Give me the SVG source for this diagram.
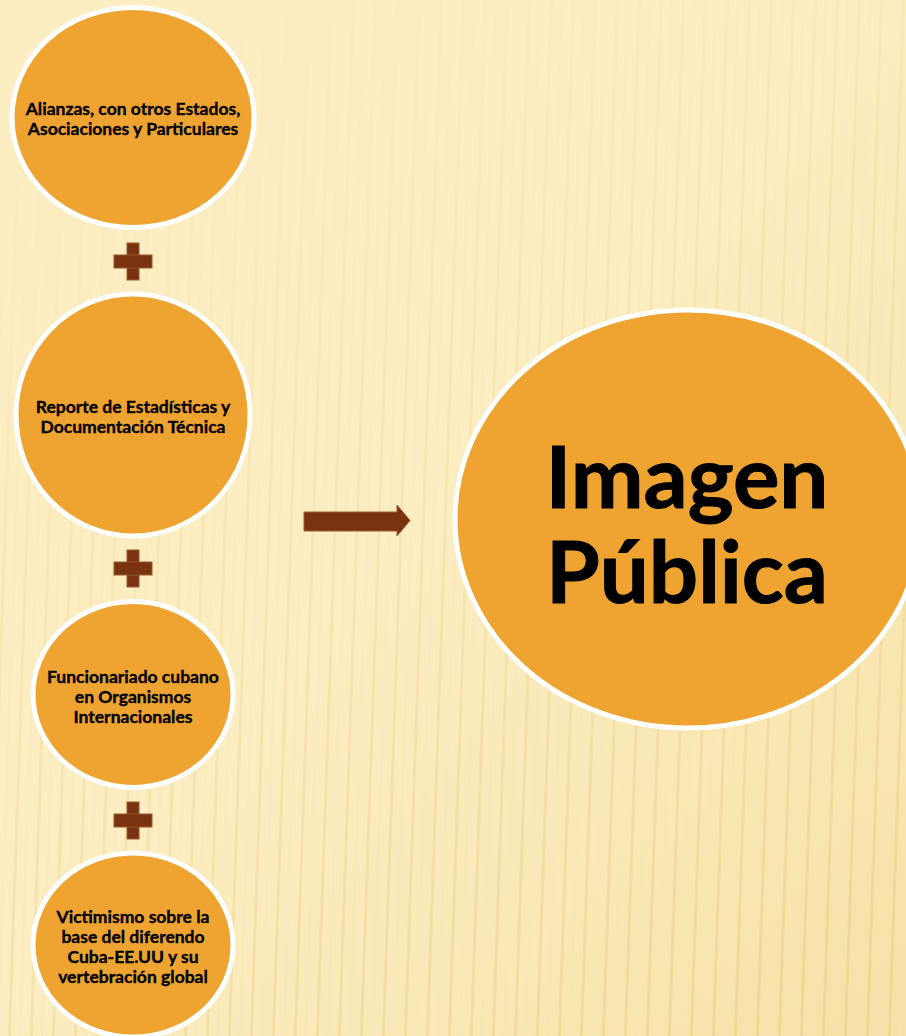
<svg xmlns="http://www.w3.org/2000/svg" width="906" height="1036" viewBox="0 0 906 1036">
<style>
.node{fill:#EFA431;stroke:#FFFFFF;stroke-width:5}
.lbl{font-family:"Lato","Open Sans",sans-serif;font-weight:700;font-size:17.5px;fill:#000;stroke:#000;stroke-width:0.35;text-anchor:middle}
.big{font-family:"Lato","Open Sans",sans-serif;font-weight:700;font-size:87px;fill:#000;stroke:#000;stroke-width:1;text-anchor:middle}
.plus{fill:#7A3310;stroke:#9A5A30;stroke-width:1}
</style>
<defs>
<linearGradient id="bg" x1="0" y1="0" x2="1" y2="1">
<stop offset="0" stop-color="#FCEDC2"/>
<stop offset="0.5" stop-color="#FCEDC2"/>
<stop offset="1" stop-color="#F6E2A8"/>
</linearGradient>
<pattern id="stripes" width="22" height="40" patternUnits="userSpaceOnUse" patternTransform="skewX(-2)">
<rect x="0" y="0" width="3" height="40" fill="#E8CD80"/>
<rect x="11" y="0" width="2" height="40" fill="#F7E4AE"/>
</pattern>
<linearGradient id="fade" x1="0.3" y1="0" x2="0.8" y2="1">
<stop offset="0" stop-color="#fff" stop-opacity="0"/>
<stop offset="0.4" stop-color="#fff" stop-opacity="0.35"/>
<stop offset="1" stop-color="#fff" stop-opacity="0.8"/>
</linearGradient>
<mask id="m"><rect width="906" height="1036" fill="url(#fade)"/></mask>
</defs>
<rect width="906" height="1036" fill="url(#bg)"/>
<rect width="906" height="1036" fill="url(#stripes)" mask="url(#m)" opacity="0.6"/>

<g id="connectors">
<g id="plus1"><rect class="plus" x="127" y="243" width="12" height="37"/><rect class="plus" x="114" y="255" width="38" height="13"/><rect x="127.5" y="255.5" width="11" height="12" fill="#7A3310"/></g>
<g id="plus2"><rect class="plus" x="127" y="550" width="12" height="37"/><rect class="plus" x="114" y="562" width="38" height="13"/><rect x="127.5" y="562.5" width="11" height="12" fill="#7A3310"/></g>
<g id="plus3"><rect class="plus" x="127" y="802" width="12" height="37"/><rect class="plus" x="114" y="814" width="38" height="13"/><rect x="127.5" y="814.5" width="11" height="12" fill="#7A3310"/></g>
<path id="arrow" d="M304,512 L397,512 L397,505 L410,520.5 L397,536 L397,531 L304,531 Z" fill="#7A3310" stroke="#9A5A30" stroke-width="1"/>
</g>

<g id="node1">
<ellipse class="node" cx="133" cy="117.5" rx="121" ry="110"/>
<text class="lbl" x="133" y="115">Alianzas, con otros Estados,</text>
<text class="lbl" x="133" y="135">Asociaciones y Particulares</text>
</g>
<g id="node2">
<ellipse class="node" cx="133" cy="415" rx="117" ry="121"/>
<text class="lbl" x="133" y="413">Reporte de Estadísticas y</text>
<text class="lbl" x="133" y="433">Documentación Técnica</text>
</g>
<g id="node3">
<ellipse class="node" cx="133" cy="694.5" rx="100" ry="93"/>
<text class="lbl" x="133" y="683">Funcionariado cubano</text>
<text class="lbl" x="133" y="703">en Organismos</text>
<text class="lbl" x="133" y="723">Internacionales</text>
</g>
<g id="node4">
<ellipse class="node" cx="133" cy="945" rx="100" ry="92"/>
<text class="lbl" x="133" y="923">Victimismo sobre la</text>
<text class="lbl" x="133" y="943">base del diferendo</text>
<text class="lbl" x="133" y="963">Cuba-EE.UU y su</text>
<text class="lbl" x="133" y="983">vertebración global</text>
</g>
<g id="node5">
<ellipse class="node" cx="688" cy="519" rx="233" ry="209"/>
<text class="big" x="687" y="508">Imagen</text>
<text class="big" x="687" y="603">Pública</text>
</g>
</svg>
